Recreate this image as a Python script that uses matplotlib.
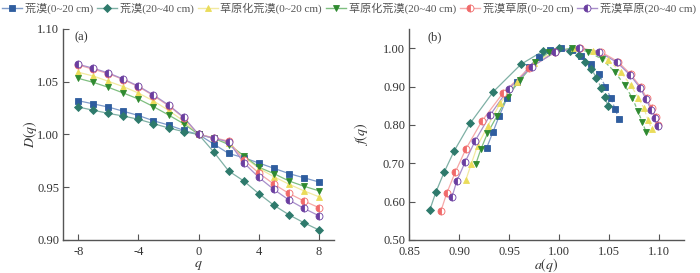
import matplotlib
matplotlib.use("Agg")
import matplotlib.pyplot as plt
from matplotlib.lines import Line2D

plt.rcParams['font.family'] = ['Liberation Serif', 'Noto Sans CJK SC', 'DejaVu Sans']
plt.rcParams['mathtext.fontset'] = 'stix'
plt.rcParams['axes.unicode_minus'] = False

# ---------------- data ----------------
labels = ["荒漠(0~20 cm)", "荒漠(20~40 cm)", "草原化荒漠(0~20 cm)",
          "草原化荒漠(20~40 cm)", "荒漠草原(0~20 cm)", "荒漠草原(20~40 cm)"]

q = [-8, -7, -6, -5, -4, -3, -2, -1, 0, 1, 2, 3, 4, 5, 6, 7, 8]

D_desert_0_20 = [1.032, 1.029, 1.026, 1.022, 1.018, 1.013, 1.009, 1.004, 1.000,
                 0.991, 0.982, 0.978, 0.973, 0.968, 0.963, 0.959, 0.955]
D_desert_20_40 = [1.026, 1.023, 1.020, 1.0175, 1.0144, 1.0103, 1.0062, 1.0027, 1.000,
                  0.9836, 0.9654, 0.956, 0.944, 0.933, 0.924, 0.9164, 0.9095]
D_stdesert_0_20 = [1.059, 1.0554, 1.0504, 1.0453, 1.0393, 1.0318, 1.0229, 1.0128, 1.000,
                   0.997, 0.992, 0.979, 0.968, 0.960, 0.953, 0.9466, 0.941]
D_stdesert_20_40 = [1.0532, 1.0494, 1.0447, 1.0393, 1.0336, 1.0264, 1.0185, 1.0103, 1.000,
                    0.9965, 0.9905, 0.980, 0.969, 0.963, 0.956, 0.951, 0.9466]
D_dsteppe_0_20 = [1.0659, 1.0618, 1.0577, 1.052, 1.0453, 1.0368, 1.0273, 1.016, 1.000,
                  0.997, 0.9937, 0.976, 0.9635, 0.953, 0.9442, 0.937, 0.9307]
D_dsteppe_20_40 = [1.0665, 1.0628, 1.0583, 1.0525, 1.0458, 1.0375, 1.028, 1.0165, 1.000,
                   0.9965, 0.993, 0.9733, 0.9594, 0.948, 0.938, 0.930, 0.923]

# multifractal spectrum, points ordered by increasing alpha
a_desert_0_20 = [0.9276, 0.9337, 0.9400, 0.9477, 0.9580, 0.9695, 0.9795, 0.9906, 1.0019,
                 1.0130, 1.0224, 1.0320, 1.0398, 1.0464, 1.0515, 1.0562, 1.0598]
f_desert_0_20 = [0.741, 0.781, 0.823, 0.869, 0.912, 0.950, 0.978, 0.996, 1.000,
                 0.994, 0.980, 0.958, 0.932, 0.900, 0.871, 0.841, 0.815]
a_desert_20_40 = [0.8705, 0.8768, 0.8848, 0.8949, 0.9109, 0.9343, 0.9618, 0.9842, 1.0000,
                  1.0110, 1.0197, 1.0264, 1.0324, 1.0374, 1.0421, 1.0458, 1.0488]
f_desert_20_40 = [0.578, 0.626, 0.676, 0.732, 0.804, 0.887, 0.958, 0.993, 1.000,
                  0.993, 0.9825, 0.965, 0.946, 0.922, 0.897, 0.874, 0.850]
a_stdesert_0_20 = [0.9066, 0.9120, 0.9183, 0.9287, 0.9411, 0.9578, 0.9750, 0.9960, 1.0150,
                   1.0337, 1.0492, 1.0615, 1.0716, 1.0793, 1.0850, 1.0890, 1.0927]
f_stdesert_0_20 = [0.6565, 0.698, 0.746, 0.798, 0.857, 0.913, 0.962, 0.992, 1.000,
                   0.993, 0.969, 0.939, 0.904, 0.871, 0.843, 0.813, 0.790]
a_stdesert_20_40 = [0.9166, 0.9217, 0.9283, 0.9377, 0.9484, 0.9610, 0.9760, 0.9900, 1.0130,
                    1.0290, 1.0432, 1.0555, 1.0656, 1.0733, 1.0789, 1.0833, 1.0870]
f_stdesert_20_40 = [0.698, 0.737, 0.778, 0.823, 0.874, 0.917, 0.963, 0.990, 1.000,
                    0.991, 0.971, 0.939, 0.904, 0.870, 0.836, 0.807, 0.782]
a_dsteppe_0_20 = [0.8818, 0.8875, 0.8959, 0.9066, 0.9227, 0.9438, 0.9700, 0.9963, 1.0214,
                  1.0415, 1.0589, 1.0716, 1.0816, 1.0877, 1.0927, 1.0967, 1.0994]
f_dsteppe_0_20 = [0.5765, 0.622, 0.676, 0.737, 0.810, 0.883, 0.948, 0.9896, 1.000,
                  0.991, 0.965, 0.932, 0.899, 0.870, 0.843, 0.820, 0.800]
a_dsteppe_20_40 = [0.8926, 0.8976, 0.9059, 0.9160, 0.9310, 0.9494, 0.9729, 0.9960, 1.0200,
                   1.0400, 1.0580, 1.0710, 1.0810, 1.0870, 1.0920, 1.0960, 1.0990]
f_dsteppe_20_40 = [0.611, 0.654, 0.703, 0.759, 0.826, 0.894, 0.952, 0.990, 1.000,
                   0.990, 0.963, 0.930, 0.897, 0.867, 0.840, 0.817, 0.796]

D_series = [D_desert_0_20, D_desert_20_40, D_stdesert_0_20,
            D_stdesert_20_40, D_dsteppe_0_20, D_dsteppe_20_40]
a_series = [a_desert_0_20, a_desert_20_40, a_stdesert_0_20,
            a_stdesert_20_40, a_dsteppe_0_20, a_dsteppe_20_40]
f_series = [f_desert_0_20, f_desert_20_40, f_stdesert_0_20,
            f_stdesert_20_40, f_dsteppe_0_20, f_dsteppe_20_40]
peak_index = 8

# ---------------- styles ----------------
colors = ['#2f5d9f', '#2e7a6c', '#eadc5a', '#2f8a30', '#f06a6a', '#6a3ea0']
line_colors = ['#7f9bc9', '#7fb0a5', '#f2e9a0', '#7fbf80', '#f6a8a8', '#a98fcb']
markers = ['s', 'D', '^', 'v', 'o', 'o']
msizes = [4.5, 4.2, 5.0, 5.0, 5.0, 5.0]
fills = ['full', 'full', 'full', 'full', 'left', 'left']
right_dashed = [True, True, True, True, False, False]

fig = plt.figure(figsize=(7.0, 2.73), dpi=100)
ax1 = fig.add_axes([0.0904, 0.1209, 0.3866, 0.7729])
ax2 = fig.add_axes([0.5847, 0.1209, 0.3924, 0.7729])

def mk(i):
    return dict(marker=markers[i], markersize=msizes[i], color=colors[i],
                markerfacecolor=colors[i], markeredgecolor=colors[i],
                markerfacecoloralt='white', fillstyle=fills[i],
                markeredgewidth=0.6, linestyle='none')

for i in range(6):
    ax1.plot(q, D_series[i], color=line_colors[i], lw=0.9, zorder=2)
    ax1.plot(q, D_series[i], zorder=3, **mk(i))

    a = a_series[i]; f = f_series[i]
    ax2.plot(a[:peak_index + 1], f[:peak_index + 1], color=line_colors[i], lw=0.9, zorder=2)
    ax2.plot(a[peak_index:], f[peak_index:], color=line_colors[i], lw=0.9, zorder=2,
             linestyle=(0, (3, 2)) if right_dashed[i] else '-')
    ax2.plot(a, f, zorder=3, **mk(i))

for ax in (ax1, ax2):
    for s in ('top', 'right'):
        ax.spines[s].set_visible(False)
    for s in ('left', 'bottom'):
        ax.spines[s].set_color('#555555')
        ax.spines[s].set_linewidth(1.0)
    ax.tick_params(direction='in', length=4, width=0.8, color='#555555',
                   labelsize=9, labelcolor='#333333')
    ax.tick_params(axis='x', pad=4.5)
    ax.tick_params(axis='y', pad=3)

ax1.set_xlim(-9, 9)
ax1.set_ylim(0.90, 1.10)
ax1.set_xticks([-8, -4, 0, 4, 8])
ax1.set_yticks([0.90, 0.95, 1.00, 1.05, 1.10])
ax1.set_yticklabels(['0.90', '0.95', '1.00', '1.05', '1.10'])
ax1.set_xlabel('$q$', fontsize=10, labelpad=0.5, color='#333333')
ax1.set_ylabel('$D(q)$', fontsize=10, labelpad=-1, color='#333333')
ax1.text(0.043, 0.962, '(a)', transform=ax1.transAxes, fontsize=9, va='center', ha='left',
         color='#333333')

ax2.set_xlim(0.85, 1.125)
ax2.set_ylim(0.50, 1.05)
ax2.set_xticks([0.85, 0.90, 0.95, 1.00, 1.05, 1.10])
ax2.set_xticklabels(['0.85', '0.90', '0.95', '1.00', '1.05', '1.10'])
ax2.set_yticks([0.50, 0.60, 0.70, 0.80, 0.90, 1.00])
ax2.set_yticklabels(['0.50', '0.60', '0.70', '0.80', '0.90', '1.00'])
ax2.set_xlabel('$a(q)$', fontsize=10, labelpad=-1.5, color='#333333')
ax2.set_ylabel('$f(q)$', fontsize=10, labelpad=9, color='#333333')
ax2.text(0.067, 0.962, '(b)', transform=ax2.transAxes, fontsize=9, va='center', ha='left',
         color='#333333')

handles = []
for i in range(6):
    h = Line2D([], [], color=line_colors[i], lw=1.0, marker=markers[i], markersize=msizes[i],
               markerfacecolor=colors[i], markeredgecolor=colors[i], markerfacecoloralt='white',
               fillstyle=fills[i], markeredgewidth=0.6)
    handles.append(h)
fig.legend(handles, labels, loc='upper left', bbox_to_anchor=(0.0, 1.0), ncol=6,
           frameon=False, fontsize=8, handlelength=1.8, handletextpad=0.25,
           columnspacing=0.35, borderaxespad=0.0, borderpad=0.2, labelcolor='#555555')

fig.savefig('out.png', dpi=100, facecolor='white')
